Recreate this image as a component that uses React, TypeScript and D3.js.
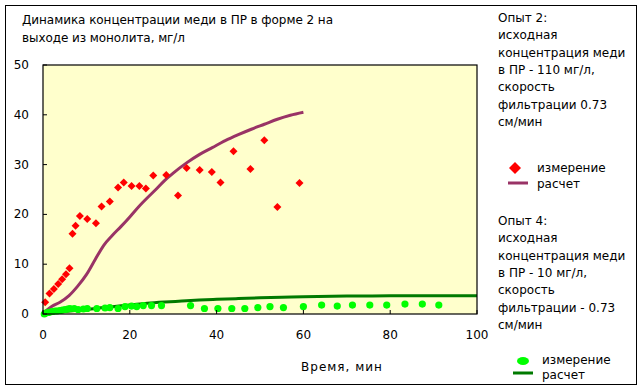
import React from "react";
import * as d3 from "d3";

// Опыт 2: измерение
const exp2Time = [0.5, 1.5, 2.5, 3.5, 4.4, 5.3, 6.1, 6.8, 7.5, 8.5, 10.2, 12.2, 13.5, 15.4, 17.3, 18.6, 20.4, 22.2, 23.7, 25.4, 28.4, 31.1, 33.1, 36.1, 38.9, 40.9, 43.9, 47.8, 51.0, 54.0, 59.1];
const exp2Meas = [2.35, 4.1, 5.0, 6.0, 7.0, 8.0, 9.2, 16.1, 17.7, 19.7, 19.1, 18.2, 21.6, 22.6, 25.4, 26.4, 25.7, 25.7, 25.2, 27.8, 27.9, 23.8, 29.3, 28.9, 28.5, 26.4, 32.7, 29.1, 34.9, 21.5, 26.3];
// Опыт 2: расчет
const exp2CalcTime = [0.5, 2, 4, 6, 8, 10, 12, 14, 16, 18, 20, 22, 24, 26, 28, 30, 33, 36, 39, 42, 45, 48, 51, 54, 57, 60];
const exp2Calc = [0.5, 1.5, 2.4, 3.7, 5.6, 7.9, 10.9, 13.8, 15.8, 17.6, 19.5, 21.5, 23.3, 25.0, 26.8, 28.3, 30.3, 32.0, 33.4, 34.8, 36.0, 37.1, 38.1, 39.1, 39.9, 40.5];
// Опыт 4: измерение
const exp4Time = [0.3, 0.7, 1.2, 1.7, 2.2, 2.8, 3.3, 3.9, 4.5, 5.1, 5.7, 6.2, 7.2, 8.1, 9.3, 10.2, 12.4, 14.3, 15.4, 17.3, 18.9, 20.4, 21.6, 23.1, 25.0, 27.3, 34.0, 37.2, 40.3, 43.5, 46.5, 49.5, 52.3, 55.4, 60.0, 64.2, 67.8, 71.3, 75.3, 79.2, 83.4, 87.4, 91.2];
const exp4Meas = [0, 0.2, 0.3, 0.4, 0.5, 0.6, 0.6, 0.7, 0.8, 0.9, 1.0, 1.1, 1.1, 0.9, 1.0, 1.1, 1.1, 1.2, 1.3, 1.1, 1.5, 1.6, 1.5, 1.7, 1.7, 1.7, 1.7, 1.1, 1.1, 1.1, 1.1, 1.3, 1.5, 1.3, 1.5, 1.8, 1.6, 1.8, 1.8, 1.8, 2.0, 2.0, 1.8];
// Опыт 4: расчет
const exp4CalcTime = [0, 2, 5, 8, 11, 14, 17, 20, 24, 28, 32, 36, 40, 45, 50, 55, 60, 70, 80, 90, 100];
const exp4Calc = [0, 0.25, 0.5, 0.75, 1.0, 1.3, 1.55, 1.8, 2.15, 2.4, 2.6, 2.8, 2.95, 3.1, 3.25, 3.35, 3.45, 3.6, 3.65, 3.67, 3.68];

const xTicks = [0, 20, 40, 60, 80, 100];
const yTicks = [0, 10, 20, 30, 40, 50];

const titleLines = ["Динамика концентрации меди в ПР в форме 2 на", "выходе из монолита, мг/л"];
const xTitle = "Время, мин";
const note2 = ["Опыт 2:", "исходная", "концентрация меди", "в ПР - 110 мг/л,", "скорость", "фильтрации 0.73", "см/мин"];
const note4 = ["Опыт 4:", "исходная", "концентрация меди", "в ПР - 10 мг/л,", "скорость", "фильтрации  - 0.73", "см/мин"];
const legendMeas = "измерение";
const legendCalc = "расчет";

const W = 642, H = 389;
const PL = 43, PR = 477, PT = 65, PB = 314;
const FONT = "'DejaVu Sans', sans-serif";
const titleWidths = [311, 163];

export default function App() {
  const x = d3.scaleLinear().domain([0, 100]).range([PL, PR]);
  const y = d3.scaleLinear().domain([0, 50]).range([PB, PT]);

  const calc2 = exp2CalcTime.map((t, i) => [t, exp2Calc[i]] as [number, number]);
  const calc4 = exp4CalcTime.map((t, i) => [t, exp4Calc[i]] as [number, number]);
  const line = d3.line<[number, number]>().x(d => x(d[0])).y(d => y(d[1])).curve(d3.curveMonotoneX);
  const diamond = d3.symbol(d3.symbolSquare, 32)()!;
  const diamondBig = d3.symbol(d3.symbolSquare, 72)()!;

  return (
    <svg width={W} height={H} style={{ position: "absolute", left: 0, top: 0, background: "#fff" }} fontFamily={FONT}>
      <rect x={5.5} y={5.5} width={631} height={379} fill="#fff" stroke="#000" strokeWidth={1} />
      {titleLines.map((s, i) => (
        <text key={i} x={22} y={24 + i * 18} fontSize={12} fill="#000" textLength={titleWidths[i]} lengthAdjust="spacing">{s}</text>
      ))}
      <rect x={PL} y={PT} width={PR - PL} height={PB - PT} fill="#FFFFCC" stroke="none" />
      {/* calc lines */}
      <path d={line(calc4)!} fill="none" stroke="#007A00" strokeWidth={3} />
      <path d={line(calc2)!} fill="none" stroke="#993366" strokeWidth={3} />
      {/* measurements */}
      {exp4Time.map((t, i) => (
        <circle key={"g" + i} cx={x(t)} cy={y(exp4Meas[i])} r={3.6} fill="#00FF00" />
      ))}
      {exp2Time.map((t, i) => (
        <path key={"r" + i} d={diamond} transform={`translate(${x(t)},${y(exp2Meas[i])}) rotate(45)`} fill="#FF0000" />
      ))}
      {/* frame */}
      <rect x={PL} y={PT} width={PR - PL} height={PB - PT} fill="none" stroke="#000" strokeWidth={1.2} />
      {/* ticks */}
      {yTicks.map(v => (
        <g key={"y" + v}>
          <line x1={PL} x2={PL + 4} y1={y(v)} y2={y(v)} stroke="#000" />
          <text x={29} y={y(v) + 4} fontSize={12} textAnchor="end">{v}</text>
        </g>
      ))}
      {xTicks.map(v => (
        <g key={"x" + v}>
          <line x1={x(v)} x2={x(v)} y1={PB} y2={PB - 4} stroke="#000" />
          <text x={x(v)} y={339} fontSize={12} textAnchor="middle">{v}</text>
        </g>
      ))}
      <text x={342} y={371} fontSize={12} textAnchor="middle" letterSpacing={1}>{xTitle}</text>
      {/* notes */}
      {note2.map((s, i) => (
        <text key={"n2" + i} x={498} y={22 + i * 17.3} fontSize={12}>{s}</text>
      ))}
      <path d={diamondBig} transform="translate(515,168) rotate(45)" fill="#FF0000" />
      <text x={537} y={172} fontSize={12}>{legendMeas}</text>
      <line x1={508} x2={528} y1={183} y2={183} stroke="#993366" strokeWidth={3} />
      <text x={537} y={188} fontSize={12}>{legendCalc}</text>
      {note4.map((s, i) => (
        <text key={"n4" + i} x={498} y={225 + i * 17.3} fontSize={12}>{s}</text>
      ))}
      <ellipse cx={523} cy={361} rx={6} ry={4} fill="#00FF00" />
      <text x={542} y={364} fontSize={12}>{legendMeas}</text>
      <line x1={513} x2={533} y1={373} y2={373} stroke="#007A00" strokeWidth={3} />
      <text x={542} y={379} fontSize={12}>{legendCalc}</text>
    </svg>
  );
}
